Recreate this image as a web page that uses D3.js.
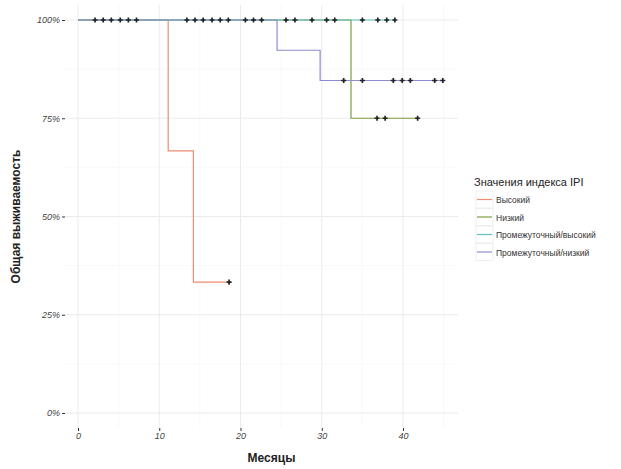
<!DOCTYPE html>
<html>
<head>
<meta charset="utf-8">
<script src="https://d3js.org/d3.v7.min.js"></script>
<style>body{margin:0;background:#fff;font-family:"Liberation Sans",Arial,sans-serif}</style>
</head>
<body>
<script>
// series: [time, survival] steps, censor times
var seriesNames = ["Высокий", "Низкий", "Промежуточный/высокий", "Промежуточный/низкий"];
var seriesColors = ["#F08C70", "#7CA040", "#60C0C0", "#8C8CD0"];
var steps = [
  [[0, 1], [11.1, 0.667], [14.2, 0.333], [18.6, 0.333]],
  [[0, 1], [33.6, 0.75], [41.8, 0.75]],
  [[0, 1], [39, 1]],
  [[0, 1], [24.5, 0.923], [29.8, 0.846], [44.9, 0.846]]
];
var censors = [
  [18.6],
  [36.8, 37.8, 41.8],
  [2.1, 3.1, 4.1, 5.2, 6.2, 7.2, 13.4, 14.4, 15.4, 16.5, 17.5, 18.5, 20.6, 21.6, 22.6, 25.6, 26.7, 28.8, 30.6, 31.6, 35, 36.9, 38, 39],
  [32.7, 35, 38.8, 39.9, 40.9, 43.9, 44.9]
];
var xTicks = [0, 10, 20, 30, 40];
var yTicks = [0, 0.25, 0.5, 0.75, 1];

var W = 621, H = 469;
var svg = d3.select("body").append("svg").attr("width", W).attr("height", H);
var x = d3.scaleLinear().domain([0, 40]).range([78, 403]);
var y = d3.scaleLinear().domain([0, 1]).range([413, 20]);
var x0 = 65, x1 = 458, y0 = 5, y1 = 428;

var g = svg.append("g");
// grid
d3.range(-5, 50, 5).forEach(function(v){
  var px = x(v); if (px < x0 || px > x1) return;
  g.append("line").attr("x1", px).attr("x2", px).attr("y1", y0).attr("y2", y1)
    .attr("stroke", v % 10 === 0 ? "#ebebeb" : "#f5f5f5").attr("stroke-width", v % 10 === 0 ? 1 : 0.6);
});
d3.range(-0.125, 1.2, 0.125).forEach(function(v){
  var py = y(v); if (py < y0 || py > y1) return;
  var major = Math.abs((v * 4) - Math.round(v * 4)) < 1e-6;
  g.append("line").attr("x1", x0).attr("x2", x1).attr("y1", py).attr("y2", py)
    .attr("stroke", major ? "#ebebeb" : "#f5f5f5").attr("stroke-width", major ? 1 : 0.6);
});
// axes
var xa = svg.append("g").attr("transform", "translate(0," + y1 + ")")
  .call(d3.axisBottom(x).tickValues(xTicks).tickSize(3).tickPadding(2));
var ya = svg.append("g").attr("transform", "translate(" + x0 + ",0)")
  .call(d3.axisLeft(y).tickValues(yTicks).tickSize(3).tickPadding(2).tickFormat(d3.format(".0%")));
[xa, ya].forEach(function(a){
  a.select(".domain").remove();
  a.selectAll("line").attr("stroke", "#333");
  a.selectAll("text").attr("fill", "#444").attr("font-size", 9).attr("font-style", "italic");
});

var line = d3.line().curve(d3.curveStepAfter).x(function(d){ return x(d[0]); }).y(function(d){ return y(d[1]); });
steps.forEach(function(s, i){
  svg.append("path").attr("d", line(s)).attr("fill", "none").attr("stroke", seriesColors[i]).attr("stroke-width", 1.2);
});
censors.forEach(function(c, i){
  var s = steps[i];
  c.forEach(function(t){
    var v = s.filter(function(p){ return p[0] <= t; }).pop()[1];
    svg.append("path").attr("d", d3.symbol(d3.symbolCross, 14)())
      .attr("transform", "translate(" + x(t) + "," + y(v) + ")").attr("fill", "#222");
  });
});

svg.append("text").attr("x", (x0 + x1) / 2 + 10).attr("y", 462).attr("text-anchor", "middle")
  .attr("font-size", 12).attr("font-weight", "bold").attr("fill", "#222").text("Месяцы");
svg.append("text").attr("transform", "translate(20," + ((y0 + y1) / 2) + ") rotate(-90)").attr("text-anchor", "middle")
  .attr("font-size", 12).attr("font-weight", "bold").attr("fill", "#222").text("Общая выживаемость");

// legend
var lg = svg.append("g").attr("transform", "translate(474,0)");
lg.append("text").attr("x", 0).attr("y", 186).attr("font-size", 11).attr("fill", "#222").text("Значения индекса IPI");
seriesNames.forEach(function(n, i){
  var yy = 191 + i * 17.5;
  lg.append("rect").attr("x", 2).attr("y", yy).attr("width", 17).attr("height", 17)
    .attr("fill", "#fff").attr("stroke", "#e4e4e4").attr("stroke-width", 0.6);
  lg.append("line").attr("x1", 3).attr("x2", 18).attr("y1", yy + 8.5).attr("y2", yy + 8.5)
    .attr("stroke", seriesColors[i]).attr("stroke-width", 1.2);
  lg.append("text").attr("x", 22).attr("y", yy + 12).attr("font-size", 8.5).attr("fill", "#333").text(n);
});
</script>
</body>
</html>
